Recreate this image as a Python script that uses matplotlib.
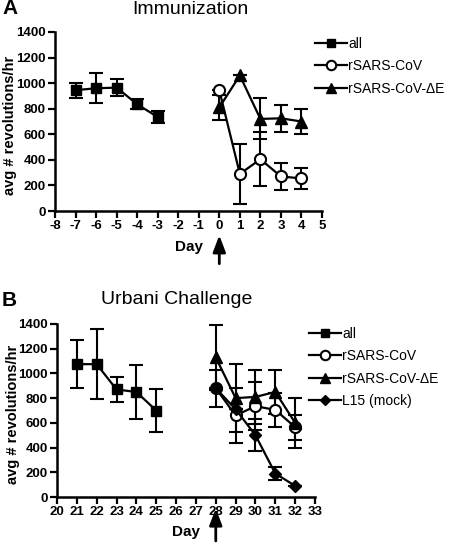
import matplotlib
matplotlib.use("Agg")
import matplotlib.pyplot as plt
from matplotlib.lines import Line2D

plt.rcParams["font.family"] = ["Liberation Sans", "DejaVu Sans"]
plt.rcParams["axes.unicode_minus"] = False

# ── Panel A: Immunization ─────────────────────────────────────────────────────
a_all_days = [-7, -6, -5, -4, -3]
a_all_vals = [945, 960, 965, 835, 735]
a_all_err = [60, 118, 65, 40, 50]

a_cov_days = [0, 1, 2, 3, 4]
a_cov_vals = [945, 290, 405, 270, 255]
a_cov_err = [0, 235, 210, 105, 85]

a_de_days = [0, 1, 2, 3, 4]
a_de_vals = [810, 1060, 720, 725, 700]
a_de_err = [95, 0, 160, 105, 98]

# ── Panel B: Urbani Challenge ─────────────────────────────────────────────────
b_all_days = [21, 22, 23, 24, 25]
b_all_vals = [1075, 1075, 870, 850, 700]
b_all_err = [195, 285, 105, 220, 170]

b_cov_days = [28, 29, 30, 31, 32]
b_cov_vals = [880, 660, 735, 705, 565]
b_cov_err = [150, 220, 195, 135, 100]

b_de_days = [28, 29, 30, 31, 32]
b_de_vals = [1130, 800, 810, 850, 600]
b_de_err = [265, 275, 220, 175, 205]

b_mock_days = [28, 29, 30, 31, 32]
b_mock_vals = [880, 710, 500, 190, 90]
b_mock_err = [0, 0, 130, 55, 0]

STYLES = {
    "all": dict(marker="s", mfc="black", ms=7.5),
    "rSARS-CoV": dict(marker="o", mfc="white", ms=8, mew=1.5),
    "rSARS-CoV-ΔE": dict(marker="^", mfc="black", ms=8.5),
    "L15 (mock)": dict(marker="D", mfc="black", ms=6),
}


def draw(ax, name, days, vals, err):
    st = STYLES[name]
    ax.errorbar(days, vals, yerr=err, color="black", lw=1.6, elinewidth=1.5,
                capsize=5, capthick=1.5, mec="black", clip_on=False, zorder=3, **st)


def style_axes(ax, xmin, xmax):
    ax.set_xlim(xmin, xmax)
    ax.set_ylim(0, 1400)
    ax.set_xticks(range(xmin, xmax + 1))
    ax.set_yticks(range(0, 1401, 200))
    for s in ("top", "right"):
        ax.spines[s].set_visible(False)
    for s in ("left", "bottom"):
        ax.spines[s].set_linewidth(1.8)
    ax.tick_params(width=1.6, length=5, labelsize=9.5, pad=1.5)
    for lab in ax.get_xticklabels() + ax.get_yticklabels():
        lab.set_fontweight("bold")
    ax.set_xlabel("Day", fontsize=11, fontweight="bold", va="top")
    ax.set_ylabel("avg # revolutions/hr", fontsize=10.5, fontweight="bold", va="center")


def legend(fig, names, x, y):
    handles = [Line2D([], [], color="black", lw=1.6, mec="black",
                      **{**STYLES[n], "ms": STYLES[n]["ms"] * 0.85}) for n in names]
    fig.legend(handles, names, loc="upper left", bbox_to_anchor=(x, y),
               frameon=False, fontsize=10, handlelength=2.3, handletextpad=0.1,
               labelspacing=0.6, borderaxespad=0, borderpad=0)


def arrow(ax, xval, y0, y1):
    ax.annotate("", xy=(xval, y0), xytext=(xval, y1),
                xycoords=("data", "axes fraction"), textcoords=("data", "axes fraction"),
                arrowprops=dict(arrowstyle="-|>,head_length=1.0,head_width=0.38",
                                color="black", lw=2))


fig = plt.figure(figsize=(4.5, 5.52), dpi=100)

axA = fig.add_axes([55 / 450, 1 - 211 / 552, 267 / 450, 179 / 552])
draw(axA, "all", a_all_days, a_all_vals, a_all_err)
draw(axA, "rSARS-CoV", a_cov_days, a_cov_vals, a_cov_err)
draw(axA, "rSARS-CoV-ΔE", a_de_days, a_de_vals, a_de_err)
style_axes(axA, -8, 5)
axA.xaxis.set_label_coords(0.5, -0.16)
axA.yaxis.set_label_coords(-0.168, 0.48)
arrow(axA, 0, -0.12, -0.31)
fig.text(190 / 450, 1 - 9 / 552, "Immunization", ha="center", va="center", fontsize=14)
fig.text(2 / 450, 1 - 9 / 552, "A", ha="left", va="center", fontsize=15, fontweight="bold")
legend(fig, ["all", "rSARS-CoV", "rSARS-CoV-ΔE"], 315 / 450, 1 - 37 / 552)

axB = fig.add_axes([57 / 450, 1 - 497 / 552, 258 / 450, 173 / 552])
draw(axB, "all", b_all_days, b_all_vals, b_all_err)
draw(axB, "rSARS-CoV", b_cov_days, b_cov_vals, b_cov_err)
draw(axB, "rSARS-CoV-ΔE", b_de_days, b_de_vals, b_de_err)
draw(axB, "L15 (mock)", b_mock_days, b_mock_vals, b_mock_err)
style_axes(axB, 20, 33)
axB.xaxis.set_label_coords(0.5, -0.16)
axB.yaxis.set_label_coords(-0.172, 0.48)
arrow(axB, 28, -0.05, -0.27)
fig.text(177 / 450, 1 - 299 / 552, "Urbani Challenge", ha="center", va="center", fontsize=14)
fig.text(2 / 450, 1 - 301 / 552, "B", ha="left", va="center", fontsize=15, fontweight="bold")
legend(fig, ["all", "rSARS-CoV", "rSARS-CoV-ΔE", "L15 (mock)"], 309 / 450, 1 - 327 / 552)

fig.savefig("out.png", dpi=100)
